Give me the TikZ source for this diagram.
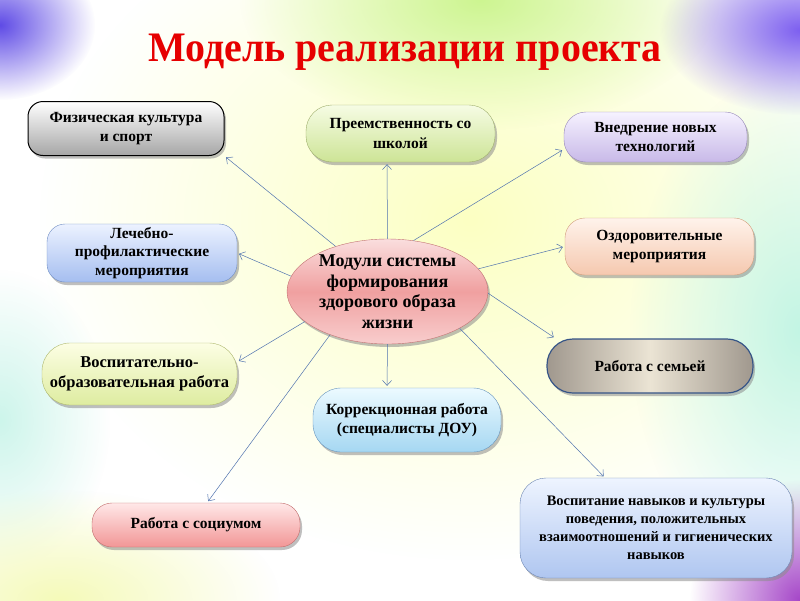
\documentclass[tikz,border=0pt]{standalone}
\usepackage{fontspec}
\setmainfont{Liberation Serif}
\newfontfamily\titlefont[FakeStretch=0.95]{Liberation Serif}
\usetikzlibrary{arrows.meta,shadows,fadings,shapes.geometric}

\tikzfading[name=glow, inner color=transparent!0, outer color=transparent!100]

\definecolor{titlered}{RGB}{230,0,0}
\definecolor{linkblue}{RGB}{80,115,175}

\begin{document}
\begin{tikzpicture}[x=1pt,y=-1pt,
		box/.style={draw, rounded corners=18pt, align=center, inner sep=3pt,
			font=\fontsize{15.5}{19.5}\selectfont\bfseries,
			drop shadow={shadow xshift=2pt, shadow yshift=-3pt, fill=black!45, opacity=0.55}},
		link/.style={draw=linkblue, line width=0.5pt, -{Straight Barb[length=5pt,width=9pt]}, shorten >=2pt}]
		
		% Background
		\useasboundingbox (0,0) rectangle (800,600);
		\fill[white] (0,0) rectangle (800,600);
		\begin{scope}
			\clip (0,0) rectangle (800,600);
			\fill[color={rgb,255:red,252;green,255;blue,195}, path fading=glow] (470,220) ellipse (430 and 340);
			\fill[color={rgb,255:red,205;green,245;blue,145}, path fading=glow] (480,0) ellipse (240 and 130);
			\fill[color={rgb,255:red,195;green,245;blue,228}, path fading=glow] (800,330) ellipse (170 and 260);
			\fill[color={rgb,255:red,205;green,245;blue,235}, path fading=glow] (0,420) ellipse (110 and 150);
			\fill[color={rgb,255:red,245;green,250;blue,185}, path fading=glow] (60,600) ellipse (220 and 110);
			\fill[color={rgb,255:red,95;green,75;blue,230}, path fading=glow] (0,25) ellipse (95 and 75);
			\fill[color={rgb,255:red,125;green,95;blue,240}, path fading=glow] (800,30) ellipse (140 and 85);
			\fill[color={rgb,255:red,165;green,70;blue,200}, path fading=glow] (800,600) ellipse (110 and 120);
		\end{scope}
		
		% Title
		\node[anchor=base, text=titlered, font=\titlefont\fontsize{42}{42}\selectfont\bfseries] (title) at (405,61) {Модель реализации проекта};
		
		% Coordinates
		\coordinate (C_m) at (387.5,291.5);
		\coordinate (C_fiz) at (126,128.5);
		\coordinate (C_preem) at (400.5,133.5);
		\coordinate (C_vnedr) at (655.5,137);
		\coordinate (C_lech) at (142,253);
		\coordinate (C_ozd) at (659.5,246.5);
		\coordinate (C_vosp) at (139.5,374);
		\coordinate (C_semya) at (650,366);
		\coordinate (C_korr) at (407,420);
		\coordinate (C_soc) at (196,525);
		\coordinate (C_navyk) at (656,528);
		
		% Modules
		\node[box, draw=black, line width=1pt, rounded corners=15pt, top color=white, bottom color=black!35,
			minimum width=196pt, minimum height=54pt] (fiz) at (C_fiz) {Физическая культура\\и спорт};
		\node[box, draw={rgb,255:red,160;green,175;blue,110}, rounded corners=26pt,
			top color={rgb,255:red,246;green,252;blue,228}, bottom color={rgb,255:red,205;green,228;blue,150},
			minimum width=189pt, minimum height=57pt] (preem) at (C_preem) {Преемственность со\\школой};
		\node[box, draw={rgb,255:red,150;green,135;blue,185}, rounded corners=22pt,
			top color={rgb,255:red,246;green,242;blue,255}, bottom color={rgb,255:red,200;green,185;blue,232},
			minimum width=183pt, minimum height=50pt] (vnedr) at (C_vnedr) {Внедрение новых\\технологий};
		\node[box, draw={rgb,255:red,110;green,140;blue,195},
			top color={rgb,255:red,236;green,242;blue,255}, bottom color={rgb,255:red,165;green,190;blue,240},
			minimum width=190pt, minimum height=58pt, font=\fontsize{15.5}{18.5}\selectfont\bfseries] (lech) at (C_lech) {Лечебно-\\профилактические\\мероприятия};
		\node[box, draw={rgb,255:red,210;green,160;blue,125}, rounded corners=20pt,
			top color={rgb,255:red,255;green,243;blue,235}, bottom color={rgb,255:red,245;green,200;blue,175},
			minimum width=189pt, minimum height=57pt] (ozd) at (C_ozd) {Оздоровительные\\мероприятия};
		\node[box, draw={rgb,255:red,175;green,185;blue,110}, rounded corners=28pt,
			font=\fontsize{16.5}{20}\selectfont\bfseries,
			top color={rgb,255:red,252;green,254;blue,228}, bottom color={rgb,255:red,222;green,236;blue,160},
			minimum width=195pt, minimum height=62pt] (vosp) at (C_vosp) {Воспитательно-\\образовательная работа};
		\node[box, draw={rgb,255:red,55;green,85;blue,135}, line width=1.2pt, rounded corners=26pt,
			left color={rgb,255:red,160;green,152;blue,142}, right color={rgb,255:red,160;green,152;blue,142},
			middle color={rgb,255:red,235;green,228;blue,212},
			minimum width=206pt, minimum height=54pt] (semya) at (C_semya) {Работа с семьей};
		\node[box, draw={rgb,255:red,105;green,150;blue,190}, rounded corners=28pt,
			top color={rgb,255:red,236;green,250;blue,255}, bottom color={rgb,255:red,165;green,215;blue,242},
			minimum width=188pt, minimum height=64pt] (korr) at (C_korr) {Коррекционная работа\\(специалисты ДОУ)};
		\node[box, draw={rgb,255:red,195;green,110;blue,110}, rounded corners=20pt,
			top color={rgb,255:red,255;green,232;blue,232}, bottom color={rgb,255:red,242;green,150;blue,150},
			minimum width=208pt, minimum height=44pt] (soc) at (C_soc) {Работа с социумом};
		\node[box, draw={rgb,255:red,110;green,135;blue,180}, rounded corners=26pt,
			font=\fontsize{14.5}{18}\selectfont\bfseries,
			top color={rgb,255:red,238;green,244;blue,255}, bottom color={rgb,255:red,175;green,198;blue,240},
			minimum width=272pt, minimum height=100pt] (navyk) at (C_navyk) {Воспитание навыков и культуры\\поведения, положительных\\взаимоотношений и гигиенических\\навыков};
		
		% Centre
		\node[box, ellipse, draw={rgb,255:red,195;green,115;blue,115}, font=\fontsize{18}{20.5}\selectfont\bfseries,
			top color={rgb,255:red,250;green,222;blue,222}, bottom color={rgb,255:red,248;green,205;blue,205},
			middle color={rgb,255:red,240;green,160;blue,160},
			minimum width=201pt, minimum height=105pt, inner sep=0pt] (m) at (C_m) {Модули системы\\формирования\\здорового образа\\жизни};
		
		% Links
		\draw[link] (m.north) -- ([xshift=-13.5pt]preem.south);
		\draw[link] (m.south) -- ([xshift=-20pt]korr.north);
		\draw[link] (m.139) -- (fiz.south east);
		\draw[link] (m.63) -- ([yshift=13pt]vnedr.south west);
		\draw[link] (m.171) -- (lech.east);
		\draw[link] (m.14) -- (ozd.west);
		\draw[link] (m.359) -- ([xshift=9pt]semya.north west);
		\draw[link] (m.200) -- ([yshift=12pt]vosp.east);
		\draw[link] (m.217) -- ([xshift=11pt]soc.north);
		\draw[link] (m.333) -- ([xshift=-51pt]navyk.north);
	\end{tikzpicture}
\end{document}
